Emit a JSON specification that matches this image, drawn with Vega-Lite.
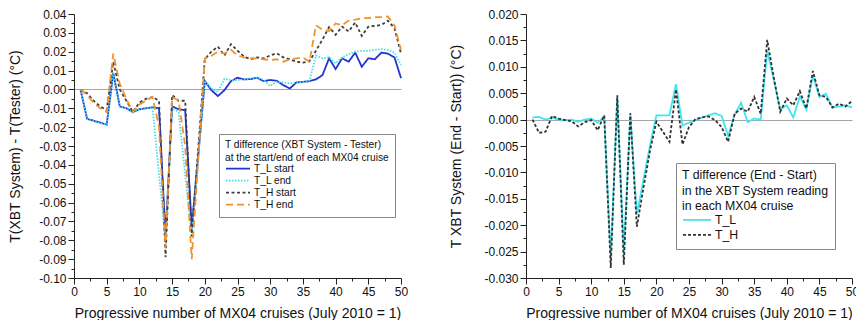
{
  "$schema": "https://vega.github.io/schema/vega-lite/v6.json",
  "padding": {"left": 8, "top": 8, "right": 0, "bottom": 0},
  "background": "white",
  "spacing": 41,
  "resolve": {"scale": {"color": "independent", "strokeDash": "independent"}, "legend": {"color": "independent", "strokeDash": "independent"}},
  "datasets": {
    "left": [
      {"x": 1, "TLs": 0, "TLe": 0, "THs": 0, "THe": 0},
      {"x": 2, "TLs": -0.0156, "TLe": -0.0158, "THs": -0.002, "THe": -0.003},
      {"x": 3, "TLs": -0.0166, "TLe": -0.0168, "THs": -0.006, "THe": -0.007},
      {"x": 4, "TLs": -0.0176, "TLe": -0.0178, "THs": -0.009, "THe": -0.010},
      {"x": 5, "TLs": -0.0186, "TLe": -0.0186, "THs": -0.011, "THe": -0.012},
      {"x": 6, "TLs": 0.0087, "TLe": 0.0085, "THs": 0.0145, "THe": 0.019},
      {"x": 7, "TLs": -0.009, "TLe": -0.009, "THs": 0.000, "THe": 0.003},
      {"x": 8, "TLs": -0.010, "TLe": -0.010, "THs": -0.006, "THe": -0.005},
      {"x": 9, "TLs": -0.012, "TLe": -0.012, "THs": -0.012, "THe": -0.012},
      {"x": 10, "TLs": -0.0105, "TLe": -0.0105, "THs": -0.007, "THe": -0.008},
      {"x": 11, "TLs": -0.010, "TLe": -0.010, "THs": -0.005, "THe": -0.006},
      {"x": 12, "TLs": -0.0095, "TLe": -0.0095, "THs": -0.004, "THe": -0.004},
      {"x": 13, "TLs": -0.010, "TLe": -0.045, "THs": -0.006, "THe": -0.020},
      {"x": 14, "TLs": -0.078, "TLe": -0.080, "THs": -0.089, "THe": -0.084},
      {"x": 15, "TLs": -0.009, "TLe": -0.010, "THs": -0.003, "THe": -0.004},
      {"x": 16, "TLs": -0.0105, "TLe": -0.012, "THs": -0.006, "THe": -0.006},
      {"x": 17, "TLs": -0.011, "TLe": -0.045, "THs": -0.006, "THe": -0.030},
      {"x": 18, "TLs": -0.073, "TLe": -0.078, "THs": -0.078, "THe": -0.090},
      {"x": 19, "TLs": -0.035, "TLe": -0.036, "THs": -0.031, "THe": -0.037},
      {"x": 20, "TLs": 0.0045, "TLe": 0.0045, "THs": 0.016, "THe": 0.0165},
      {"x": 21, "TLs": -0.0004, "TLe": 0.0005, "THs": 0.020, "THe": 0.0177},
      {"x": 22, "TLs": -0.0035, "TLe": -0.0013, "THs": 0.0227, "THe": 0.020},
      {"x": 23, "TLs": -0.0004, "TLe": 0.0057, "THs": 0.018, "THe": 0.019},
      {"x": 24, "TLs": 0.0044, "TLe": 0.005, "THs": 0.024, "THe": 0.021},
      {"x": 25, "TLs": 0.0062, "TLe": 0.005, "THs": 0.0206, "THe": 0.018},
      {"x": 26, "TLs": 0.0053, "TLe": 0.0053, "THs": 0.0174, "THe": 0.017},
      {"x": 27, "TLs": 0.0055, "TLe": 0.0058, "THs": 0.016, "THe": 0.0165},
      {"x": 28, "TLs": 0.0062, "TLe": 0.0063, "THs": 0.017, "THe": 0.0165},
      {"x": 29, "TLs": 0.0044, "TLe": 0.005, "THs": 0.0165, "THe": 0.016},
      {"x": 30, "TLs": 0.005, "TLe": 0.0018, "THs": 0.018, "THe": 0.0156},
      {"x": 31, "TLs": 0.0046, "TLe": 0.0041, "THs": 0.0192, "THe": 0.016},
      {"x": 32, "TLs": 0.0023, "TLe": 0.0037, "THs": 0.017, "THe": 0.0147},
      {"x": 33, "TLs": 0.0005, "TLe": 0.0032, "THs": 0.016, "THe": 0.016},
      {"x": 34, "TLs": 0.0037, "TLe": 0.0036, "THs": 0.0147, "THe": 0.0165},
      {"x": 35, "TLs": 0.004, "TLe": 0.004, "THs": 0.0142, "THe": 0.017},
      {"x": 36, "TLs": 0.0044, "TLe": 0.0046, "THs": 0.015, "THe": 0.0147},
      {"x": 37, "TLs": 0.0053, "TLe": 0.018, "THs": 0.0205, "THe": 0.034},
      {"x": 38, "TLs": 0.0076, "TLe": 0.0165, "THs": 0.0265, "THe": 0.0316},
      {"x": 39, "TLs": 0.0165, "TLe": 0.017, "THs": 0.033, "THe": 0.031},
      {"x": 40, "TLs": 0.0108, "TLe": 0.0138, "THs": 0.029, "THe": 0.035},
      {"x": 41, "TLs": 0.0165, "TLe": 0.017, "THs": 0.0333, "THe": 0.034},
      {"x": 42, "TLs": 0.0147, "TLe": 0.0186, "THs": 0.0307, "THe": 0.0365},
      {"x": 43, "TLs": 0.0195, "TLe": 0.020, "THs": 0.0355, "THe": 0.037},
      {"x": 44, "TLs": 0.012, "TLe": 0.0204, "THs": 0.0284, "THe": 0.0378},
      {"x": 45, "TLs": 0.0165, "TLe": 0.0205, "THs": 0.0333, "THe": 0.0378},
      {"x": 46, "TLs": 0.016, "TLe": 0.021, "THs": 0.0337, "THe": 0.0383},
      {"x": 47, "TLs": 0.0195, "TLe": 0.0213, "THs": 0.0342, "THe": 0.0383},
      {"x": 48, "TLs": 0.019, "TLe": 0.021, "THs": 0.0365, "THe": 0.0387},
      {"x": 49, "TLs": 0.017, "TLe": 0.0195, "THs": 0.0324, "THe": 0.034},
      {"x": 50, "TLs": 0.006, "TLe": 0.013, "THs": 0.019, "THe": 0.021}
    ],
    "right": [
      {"x": 1, "TL": 0.0004, "TH": 0},
      {"x": 2, "TL": 0.0005, "TH": -0.0025},
      {"x": 3, "TL": 0, "TH": -0.0023},
      {"x": 4, "TL": 0.0004, "TH": 0.0007},
      {"x": 5, "TL": 0, "TH": 0.0002},
      {"x": 6, "TL": -0.0001, "TH": -0.0001},
      {"x": 7, "TL": 0, "TH": -0.0003},
      {"x": 8, "TL": -0.0004, "TH": -0.0013},
      {"x": 9, "TL": 0, "TH": -0.0005},
      {"x": 10, "TL": 0.0002, "TH": -0.0001},
      {"x": 11, "TL": -0.0006, "TH": -0.002},
      {"x": 12, "TL": 0.0006, "TH": 0.0008},
      {"x": 13, "TL": -0.0262, "TH": -0.0281},
      {"x": 14, "TL": 0.004, "TH": 0.0046},
      {"x": 15, "TL": -0.025, "TH": -0.0275},
      {"x": 16, "TL": 0.0008, "TH": 0.0012},
      {"x": 17, "TL": -0.018, "TH": -0.0203},
      {"x": 18, "TL": -0.0115, "TH": -0.013},
      {"x": 19, "TL": -0.005, "TH": -0.006},
      {"x": 20, "TL": 0.0008, "TH": -0.0004},
      {"x": 21, "TL": 0.0008, "TH": -0.0023},
      {"x": 22, "TL": 0.0008, "TH": -0.0042},
      {"x": 23, "TL": 0.0067, "TH": 0.0057},
      {"x": 24, "TL": -0.0011, "TH": -0.0047},
      {"x": 25, "TL": -0.0006, "TH": -0.0014},
      {"x": 26, "TL": -0.0001, "TH": 0.0001},
      {"x": 27, "TL": 0.0004, "TH": 0.0004},
      {"x": 28, "TL": 0.0008, "TH": 0.0006},
      {"x": 29, "TL": 0.0012, "TH": -0.0001},
      {"x": 30, "TL": 0.0007, "TH": -0.0014},
      {"x": 31, "TL": -0.0031, "TH": -0.0042},
      {"x": 32, "TL": 0.0009, "TH": 0.0011},
      {"x": 33, "TL": 0.0032, "TH": 0.0021},
      {"x": 34, "TL": -0.0005, "TH": 0.0015},
      {"x": 35, "TL": 0.0002, "TH": 0.0043},
      {"x": 36, "TL": 0, "TH": 0.0011},
      {"x": 37, "TL": 0.0131, "TH": 0.0151},
      {"x": 38, "TL": 0.0075, "TH": 0.008},
      {"x": 39, "TL": 0.002, "TH": 0.0015},
      {"x": 40, "TL": 0.0027, "TH": 0.004},
      {"x": 41, "TL": 0.0004, "TH": 0.0027},
      {"x": 42, "TL": 0.0044, "TH": 0.0054},
      {"x": 43, "TL": 0.0019, "TH": 0.0021},
      {"x": 44, "TL": 0.0084, "TH": 0.0092},
      {"x": 45, "TL": 0.0043, "TH": 0.0046},
      {"x": 46, "TL": 0.0049, "TH": 0.0043},
      {"x": 47, "TL": 0.0023, "TH": 0.0023},
      {"x": 48, "TL": 0.0025, "TH": 0.003},
      {"x": 49, "TL": 0.0027, "TH": 0.0025},
      {"x": 50, "TL": 0.0023, "TH": 0.0035}
    ]
  },
  "hconcat": [
    {
      "width": 327,
      "height": 264,
      "data": {"name": "left"},
      "transform": [
        {"fold": ["TLs", "TLe", "THs", "THe"], "as": ["key", "v"]},
        {"lookup": "key", "from": {"data": {"values": [
          {"key": "TLs", "series": "T_L start"},
          {"key": "TLe", "series": "T_L end"},
          {"key": "THs", "series": "T_H start"},
          {"key": "THe", "series": "T_H end"}
        ]}, "key": "key", "fields": ["series"]}}
      ],
      "mark": {"type": "line", "strokeWidth": 1.8},
      "encoding": {
        "x": {
          "field": "x", "type": "quantitative",
          "scale": {"domain": [0, 50], "nice": false, "zero": false},
          "axis": {
            "title": "Progressive number of MX04 cruises (July 2010 = 1)",
            "values": [0, 2.5, 5, 7.5, 10, 12.5, 15, 17.5, 20, 22.5, 25, 27.5, 30, 32.5, 35, 37.5, 40, 42.5, 45, 47.5, 50],
            "labelExpr": "datum.value % 5 === 0 ? datum.label : ''",
            "tickSize": {"condition": {"test": "datum.value % 5 === 0", "value": 6}, "value": 3},
            "labelPadding": 2, "labelOverlap": false,
            "titlePadding": 9
          }
        },
        "y": {
          "field": "v", "type": "quantitative",
          "scale": {"domain": [-0.1, 0.04], "nice": false, "zero": false},
          "axis": {
            "title": "T(XBT System) - T(Tester)  (°C)",
            "values": [-0.1, -0.095, -0.09, -0.085, -0.08, -0.075, -0.07, -0.065, -0.06, -0.055, -0.05, -0.045, -0.04, -0.035, -0.03, -0.025, -0.02, -0.015, -0.01, -0.005, 0, 0.005, 0.01, 0.015, 0.02, 0.025, 0.03, 0.035, 0.04],
            "labelExpr": "abs(datum.value*100 - round(datum.value*100)) < 0.001 ? replace(format(datum.value, '.2f'), '−', '-') : ''",
            "tickSize": {"condition": {"test": "abs(datum.value*100 - round(datum.value*100)) < 0.001", "value": 6}, "value": 3},
            "grid": true, "gridColor": "#a6a6a6", "gridWidth": 1,
            "gridOpacity": {"condition": {"test": "abs(datum.value) < 1e-9", "value": 1}, "value": 0},
            "labelPadding": 2, "labelOverlap": false,
            "titlePadding": 16
          }
        },
        "color": {
          "field": "series", "type": "nominal",
          "scale": {"domain": ["T_L start", "T_L end", "T_H start", "T_H end"], "range": ["#2233d0", "#3fe0ea", "#404040", "#f0922e"]},
          "legend": {
            "title": "T difference (XBT System - Tester)\nat the start/end of each MX04 cruise",
            "orient": "none", "legendX": 145, "legendY": 120,
            "strokeColor": "#888888", "fillColor": "white", "padding": 6,
            "titleFontSize": 10.2, "titleLineHeight": 12.5, "titlePadding": 0, "titleLimit": 400,
            "labelFontSize": 10.2, "labelOffset": 3,
            "symbolType": "stroke", "symbolSize": 576, "symbolStrokeWidth": 1.8,
            "clipHeight": 12, "rowPadding": 0,
            "encode": {"title": {"update": {"lineBreak": {"value": "\n"}}}}
          }
        },
        "strokeDash": {
          "field": "series", "type": "nominal",
          "scale": {"domain": ["T_L start", "T_L end", "T_H start", "T_H end"], "range": [[1, 0], [1.5, 1.5], [3, 2.5], [7, 4]]},
          "legend": {
            "title": "T difference (XBT System - Tester)\nat the start/end of each MX04 cruise",
            "orient": "none", "legendX": 145, "legendY": 120
          }
        }
      }
    },
    {
      "width": 326,
      "height": 264,
      "data": {"name": "right"},
      "transform": [
        {"fold": ["TL", "TH"], "as": ["key", "v"]},
        {"lookup": "key", "from": {"data": {"values": [
          {"key": "TL", "series": "T_L"},
          {"key": "TH", "series": "T_H"}
        ]}, "key": "key", "fields": ["series"]}}
      ],
      "mark": {"type": "line", "strokeWidth": 1.8},
      "encoding": {
        "x": {
          "field": "x", "type": "quantitative",
          "scale": {"domain": [0, 50], "nice": false, "zero": false},
          "axis": {
            "title": "Progressive number of MX04 cruises (July 2010 = 1)",
            "values": [0, 2.5, 5, 7.5, 10, 12.5, 15, 17.5, 20, 22.5, 25, 27.5, 30, 32.5, 35, 37.5, 40, 42.5, 45, 47.5, 50],
            "labelExpr": "datum.value % 5 === 0 ? datum.label : ''",
            "tickSize": {"condition": {"test": "datum.value % 5 === 0", "value": 6}, "value": 3},
            "labelPadding": 2, "labelOverlap": false,
            "titlePadding": 9
          }
        },
        "y": {
          "field": "v", "type": "quantitative",
          "scale": {"domain": [-0.03, 0.02], "nice": false, "zero": false},
          "axis": {
            "title": "T XBT System (End - Start))  (°C)",
            "values": [-0.03, -0.0275, -0.025, -0.0225, -0.02, -0.0175, -0.015, -0.0125, -0.01, -0.0075, -0.005, -0.0025, 0, 0.0025, 0.005, 0.0075, 0.01, 0.0125, 0.015, 0.0175, 0.02],
            "labelExpr": "abs(datum.value*200 - round(datum.value*200)) < 0.001 ? replace(format(datum.value, '.3f'), '−', '-') : ''",
            "tickSize": {"condition": {"test": "abs(datum.value*200 - round(datum.value*200)) < 0.001", "value": 6}, "value": 3},
            "grid": true, "gridColor": "#a6a6a6", "gridWidth": 1,
            "gridOpacity": {"condition": {"test": "abs(datum.value) < 1e-9", "value": 1}, "value": 0},
            "labelPadding": 2, "labelOverlap": false,
            "titlePadding": 20
          }
        },
        "color": {
          "field": "series", "type": "nominal",
          "scale": {"domain": ["T_L", "T_H"], "range": ["#3fe6f0", "#333333"]},
          "legend": {
            "title": "T difference (End - Start)\nin the XBT System reading\nin each MX04 cruise",
            "orient": "none", "legendX": 150, "legendY": 149,
            "strokeColor": "#888888", "fillColor": "white", "padding": 6,
            "titleFontSize": 12.3, "titleLineHeight": 15.5, "titlePadding": 0, "titleLimit": 400,
            "labelFontSize": 12.3, "labelOffset": 3,
            "symbolType": "stroke", "symbolSize": 784, "symbolStrokeWidth": 1.8,
            "clipHeight": 15, "rowPadding": 0,
            "encode": {"title": {"update": {"lineBreak": {"value": "\n"}}}}
          }
        },
        "strokeDash": {
          "field": "series", "type": "nominal",
          "scale": {"domain": ["T_L", "T_H"], "range": [[1, 0], [3, 2]]},
          "legend": {
            "title": "T difference (End - Start)\nin the XBT System reading\nin each MX04 cruise",
            "orient": "none", "legendX": 150, "legendY": 149
          }
        }
      }
    }
  ],
  "config": {
    "view": {"stroke": null},
    "font": "Liberation Sans",
    "axis": {
      "labelFont": "Liberation Sans", "titleFont": "Liberation Sans",
      "labelFontSize": 12, "titleFontSize": 14, "titleFontWeight": "normal",
      "domainColor": "#222222", "tickColor": "#222222", "labelColor": "#111111", "titleColor": "#111111",
      "labelOverlap": false, "labelFlush": false, "labelBound": false
    },
    "axisX": {"grid": false},
    "legend": {
      "labelFont": "Liberation Sans", "titleFont": "Liberation Sans",
      "titleFontWeight": "normal", "titleColor": "#111111", "labelColor": "#111111"
    }
  }
}
